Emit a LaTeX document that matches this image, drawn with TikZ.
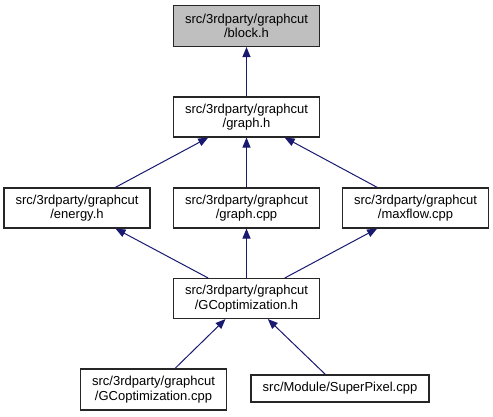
\documentclass[tikz,border=0pt]{standalone}
\usepackage{fontspec}
\setmainfont{Liberation Sans}
\usetikzlibrary{arrows.meta}
\definecolor{edgeblue}{HTML}{191970}
\definecolor{boxgray}{HTML}{BFBFBF}
\tikzset{
  box/.style={draw=black!85, line width=1.1pt, fill=white, align=center, inner sep=0pt,
    minimum width=146pt, minimum height=40pt,
    font=\fontsize{13pt}{14.5pt}\selectfont},
  edge/.style={draw=edgeblue, line width=1pt, -{Triangle[length=10pt,width=8pt]}}
}
\begin{document}
\begin{tikzpicture}[x=1pt,y=-1pt]
\useasboundingbox (0,0) rectangle (493,416);
\node[box, fill=boxgray, minimum height=41pt] (block) at (246.5,26) {src/3rdparty/graphcut\\/block.h};
\node[box] (graphh) at (246.5,117) {src/3rdparty/graphcut\\/graph.h};
\node[box] (energy) at (77,208) {src/3rdparty/graphcut\\/energy.h};
\node[box] (graphcpp) at (246.5,208) {src/3rdparty/graphcut\\/graph.cpp};
\node[box] (maxflow) at (415.5,208) {src/3rdparty/graphcut\\/maxflow.cpp};
\node[box] (gch) at (246.5,298.5) {src/3rdparty/graphcut\\/GCoptimization.h};
\node[box, minimum height=41pt] (gccpp) at (153.5,389.5) {src/3rdparty/graphcut\\/GCoptimization.cpp};
\node[box, minimum width=178pt, minimum height=27pt] (sp) at (340,388.5) {src/Module/SuperPixel.cpp};
\draw[edge] (graphh) -- (block);
\draw[edge] (energy) -- (graphh);
\draw[edge] (graphcpp) -- (graphh);
\draw[edge] (maxflow) -- (graphh);
\draw[edge] (gch) -- (energy);
\draw[edge] (gch) -- (graphcpp);
\draw[edge] (gch) -- (maxflow);
\draw[edge] (gccpp) -- (gch);
\draw[edge] (sp) -- (gch);
\end{tikzpicture}
\end{document}
